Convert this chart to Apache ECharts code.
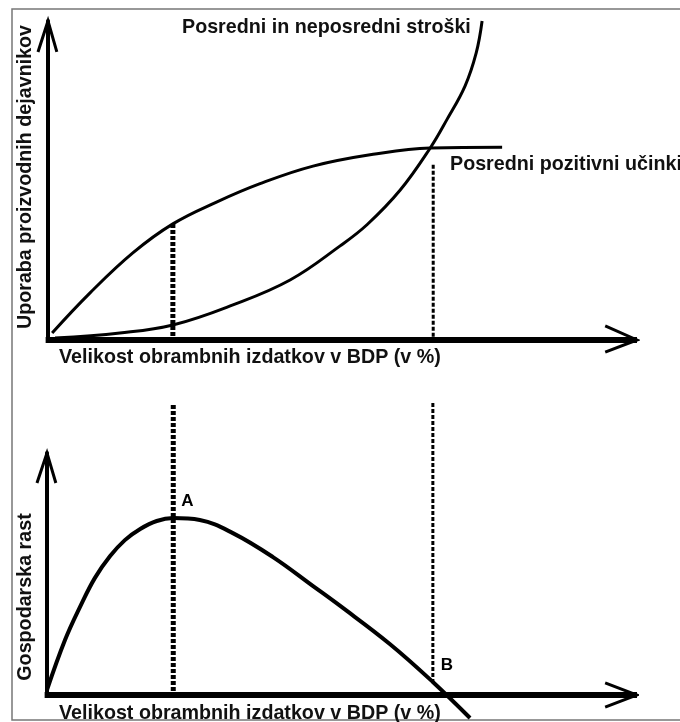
<!DOCTYPE html>
<html lang="sl">

<head>
    <meta charset="UTF-8">
    <title>Obrambni izdatki</title>
    <script src="https://cdn.jsdelivr.net/npm/echarts@6/dist/echarts.min.js"></script>
    <style>
        body { margin: 0; background: #fff; }
    </style>
</head>

<body>
    <div id="main" style="width: 680px;height: 722px;"></div>
    <script>
        let chart = echarts.init(document.getElementById('main'));

        // zgornji graf: x = obrambni izdatki, y = uporaba dejavnikov (0..100)
        var benefitsCurve = [[0.7, 2.2], [7.1, 14.7], [14.4, 27.3], [21.2, 36.4], [28.7, 43.3],
            [36.0, 49.0], [45.0, 54.5], [55.2, 58.2], [64.9, 60.2], [77.1, 60.4]];
        var costsCurve = [[1.2, 0.6], [12.2, 2.2], [21.2, 4.7], [31.4, 11.0], [41.1, 18.8],
            [49.6, 29.5], [54.2, 36.2], [59.8, 47.0], [64.9, 60.2], [67.7, 69.0],
            [70.8, 79.6], [72.7, 90.0], [73.7, 100]];
        var topDashA = [[21.2, 36.4], [21.2, 0]];
        var topDashB = [[65.4, 54.9], [65.4, 0]];

        // spodnji graf: gospodarska rast
        var growthCurve = [[0, 2.1], [3.05, 22.7], [5.6, 36.4], [8.1, 48.3], [10.7, 57.4],
            [13.2, 64.0], [15.8, 68.6], [18.6, 71.9], [21.4, 73.1], [25.9, 72.3],
            [31.5, 66.9], [38.3, 57.0], [45.1, 45.0], [49.7, 36.8], [58.1, 21.1],
            [65.4, 5.4], [71.7, -9.5]];
        var bottomDashA = [[21.4, 119.8], [21.4, 0]];
        var bottomDashB = [[65.4, 120.7], [65.4, 5.0]];
        var pointLabels = [['A', 21.4, 73.1], ['B', 65.4, 5.4]];

        // osi s puscicami
        var xAxisLine = [[-0.4, 0], [100, 0]];
        var topYArrow = [[-1.7, 90.3], [0, 100], [1.5, 90.3]];
        var topXArrow = [[94.6, 4.4], [100, 0], [94.6, -3.8]];
        var bottomYArrow = [[-1.7, 87.6], [0, 100], [1.5, 87.6]];
        var bottomXArrow = [[94.6, 5.0], [100, 0], [94.6, -5.0]];

        var font = '"Liberation Sans", Arial, sans-serif';
        var ink = '#111';

        function axisX(idx) {
            return {
                type: 'value', gridIndex: idx, min: -5, max: 100,
                axisLine: { show: false }, axisTick: { show: false },
                axisLabel: { show: false }, splitLine: { show: false }
            };
        }
        function axisY(idx) {
            return {
                type: 'value', gridIndex: idx, min: 0, max: 100,
                axisLine: { show: true, onZero: true, lineStyle: { color: '#000', width: 4 } },
                axisTick: { show: false }, axisLabel: { show: false }, splitLine: { show: false }
            };
        }
        function curve(idx, data, width, smooth, dash) {
            return {
                type: 'line', xAxisIndex: idx, yAxisIndex: idx, data: data,
                smooth: smooth, showSymbol: false, clip: false, animation: false,
                lineStyle: { color: '#000', width: width, type: dash || 'solid', cap: 'butt', join: 'miter' },
                silent: true
            };
        }
        function text(str, x, y, rot) {
            return {
                type: 'text', x: x, y: y, rotation: rot || 0,
                style: {
                    text: str, font: 'bold 19.7px ' + font, fill: ink,
                    textAlign: rot ? 'center' : 'left', textVerticalAlign: 'middle'
                }
            };
        }

        var option = {
            backgroundColor: '#fff',
            grid: [
                { left: 18.55, top: 21, width: 618.45, height: 319 },
                { left: 17.5, top: 453, width: 619.5, height: 242 }
            ],
            xAxis: [axisX(0), axisX(1)],
            yAxis: [axisY(0), axisY(1)],
            graphic: [
                { type: 'rect', shape: { x: 12, y: 9, width: 700, height: 711 },
                  style: { fill: null, stroke: '#777', lineWidth: 1.5 } },
                text('Posredni in neposredni stroški', 182, 28),
                text('Posredni pozitivni učinki', 450, 165),
                text('Velikost obrambnih izdatkov v BDP (v %)', 59, 358),
                text('Velikost obrambnih izdatkov v BDP (v %)', 59, 714),
                text('Uporaba proizvodnih dejavnikov', 26, 177, Math.PI / 2),
                text('Gospodarska rast', 26, 597, Math.PI / 2)
            ],
            series: [
                curve(0, xAxisLine, 6, false),
                curve(0, topYArrow, 3, false),
                curve(0, topXArrow, 3, false),
                curve(0, benefitsCurve, 3, 0.4),
                curve(0, costsCurve, 3, 0.4),
                curve(0, topDashA, 5, false, [4, 2]),
                curve(0, topDashB, 3, false, [4, 2]),
                curve(1, xAxisLine, 6, false),
                curve(1, bottomYArrow, 3, false),
                curve(1, bottomXArrow, 3, false),
                curve(1, growthCurve, 4, 0.4),
                curve(1, bottomDashA, 5, false, [4, 2]),
                curve(1, bottomDashB, 3, false, [4, 2]),
                {
                    type: 'scatter', xAxisIndex: 1, yAxisIndex: 1, symbolSize: 0, animation: false,
                    itemStyle: { opacity: 1 },
                    data: pointLabels.map(function (p) { return { name: p[0], value: [p[1], p[2]] }; }),
                    label: {
                        show: true, position: 'right', distance: 0, offset: [8, -17],
                        formatter: '{b}', fontFamily: font, fontWeight: 'bold', fontSize: 17, color: '#000'
                    }
                }
            ]
        };
        chart.setOption(option);
    </script>
</body>

</html>
